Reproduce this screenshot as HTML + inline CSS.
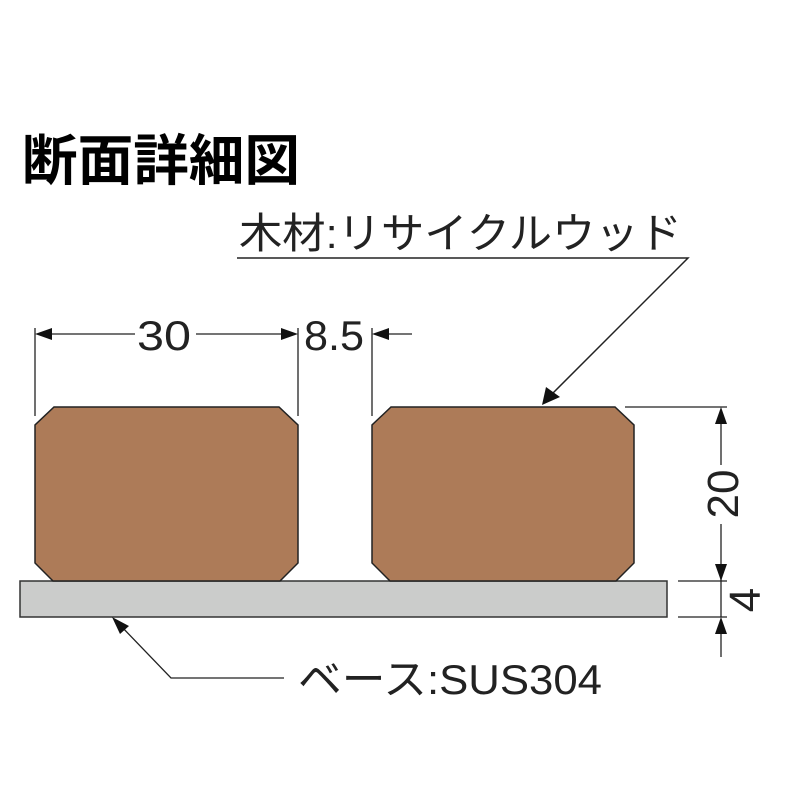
<!DOCTYPE html>
<html><head><meta charset="utf-8"><style>html,body{margin:0;padding:0;background:#fff}</style></head>
<body>
<svg width="800" height="800" viewBox="0 0 800 800" xmlns="http://www.w3.org/2000/svg">
<text x="22" y="180" font-family="'Liberation Sans','Noto Sans CJK JP',sans-serif" font-weight="bold" font-size="55" textLength="278" lengthAdjust="spacingAndGlyphs">断面詳細図</text>
<text x="239" y="248" font-family="'Liberation Sans','Noto Sans CJK JP',sans-serif" font-size="42" textLength="443" lengthAdjust="spacingAndGlyphs" fill="#222">木材:リサイクルウッド</text>
<polyline points="237,258 688,258 548,398" fill="none" stroke="#222" stroke-width="1.5"/>
<polygon points="542,405 546,387 560,397" fill="#111"/>
<rect x="20" y="581" width="647" height="36" fill="#cbcccb" stroke="#333" stroke-width="1.5"/>
<polygon points="54,407 279,407 298,425 298,563 280,581 53,581 35,563 35,425" fill="#ad7b58" stroke="#222" stroke-width="1.5"/>
<polygon points="391,407 615,407 634,425 634,563 616,581 390,581 372,563 372,425" fill="#ad7b58" stroke="#222" stroke-width="1.5"/>
<g stroke="#222" stroke-width="1.3" fill="none">
<line x1="35" y1="328" x2="35" y2="416"/><line x1="298" y1="328" x2="298" y2="416"/><line x1="372" y1="328" x2="372" y2="416"/>
<line x1="135" y1="334" x2="50" y2="334"/>
<line x1="196" y1="334" x2="283" y2="334"/>
<line x1="412" y1="334" x2="386" y2="334"/>
<line x1="625" y1="407" x2="727" y2="407"/>
<line x1="678" y1="581" x2="727" y2="581"/><line x1="678" y1="617" x2="727" y2="617"/>
<line x1="721" y1="465" x2="721" y2="420"/>
<line x1="721" y1="524" x2="721" y2="568"/>
<line x1="721" y1="568" x2="721" y2="617"/>
<line x1="721" y1="657" x2="721" y2="630"/>
<polyline points="284,678 171,678 120,625"/>
</g>
<g fill="#111">
<polygon points="35,334 52,328 52,340"/>
<polygon points="298,334 281,328 281,340"/>
<polygon points="372,334 389,328 389,340"/>
<polygon points="721,407 715,424 727,424"/>
<polygon points="721,581 715,564 727,564"/>
<polygon points="721,617 715,634 727,634"/>
<polygon points="112,617 129,626 120,634"/>
</g>
<g font-family="'Liberation Sans','Noto Sans CJK JP',sans-serif" font-size="42" fill="#222">
<text x="137" y="350" textLength="54" lengthAdjust="spacingAndGlyphs">30</text>
<text x="304" y="350" textLength="60" lengthAdjust="spacingAndGlyphs">8.5</text>
<text transform="translate(738,494) rotate(-90)" text-anchor="middle" font-size="44">20</text>
<text transform="translate(760,600) rotate(-90)" text-anchor="middle" font-size="44">4</text>
<text x="298" y="694" textLength="304" lengthAdjust="spacingAndGlyphs">ベース:SUS304</text>
</g>
</svg>
</body></html>
